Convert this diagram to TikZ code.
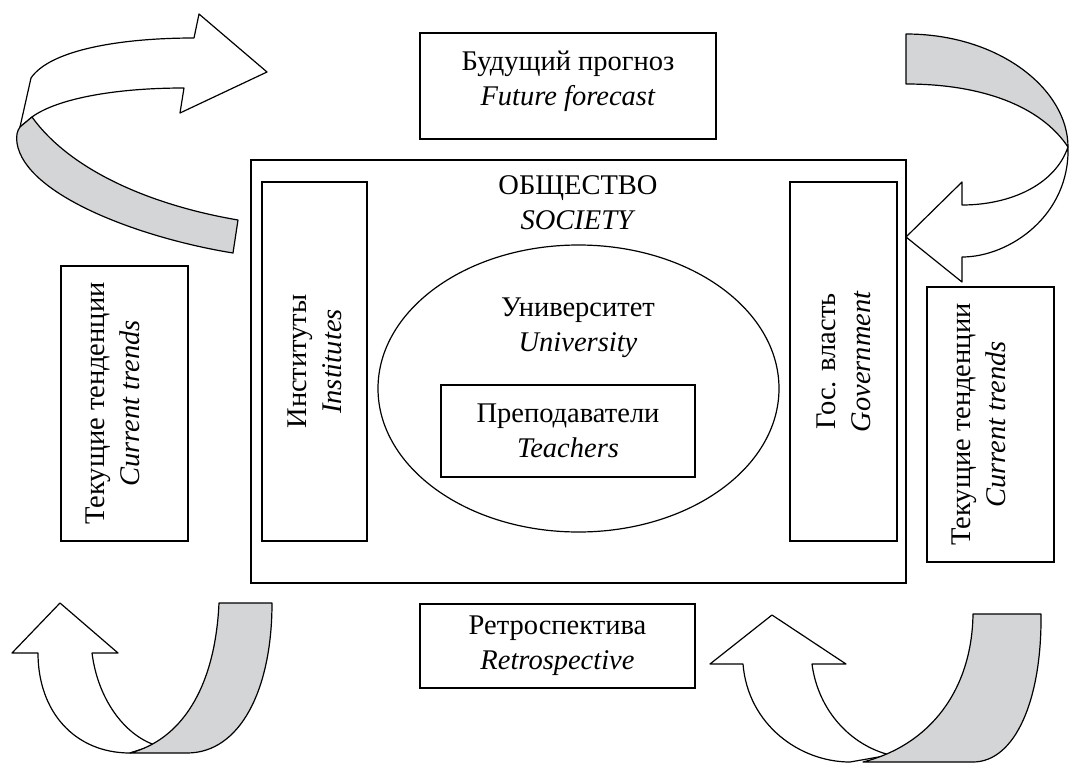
\documentclass[tikz,border=0pt]{standalone}
\usepackage{fontspec}
\setmainfont{Liberation Serif}
\usetikzlibrary{shapes.geometric}
\definecolor{ribbongray}{RGB}{212,213,215}

\begin{document}
\begin{tikzpicture}[x=1pt,y=-1pt,
	font=\fontsize{28.5}{35}\selectfont,
	box/.style={draw, line width=1.2pt, inner sep=0pt, align=center},
	trendsbox/.style={box, rotate=90, minimum width=275, minimum height=127, text depth=24pt},
	ribbon/.style={draw, line width=1.2pt, fill=white, line join=round},
	ribbonback/.style={ribbon, fill=ribbongray}]
	\useasboundingbox (0,0) rectangle (1069,763);

	% society and what it holds
	\node[box, minimum width=655, minimum height=423] (society) at (578.5,371.5) {};
	\node[align=center] (societytitle) at (578,203) {ОБЩЕСТВО\\\textit{SOCIETY}};
	\node[box, rotate=90, minimum width=359, minimum height=105] (institutes) at (314.5,361.5) {Институты\\\textit{Institutes}};
	\node[box, rotate=90, minimum width=359, minimum height=107] (government) at (843.5,361.5) {Гос. власть\\\textit{Government}};
	\node[draw, line width=1.2pt, ellipse, inner sep=0pt, minimum width=401, minimum height=287] (university) at (578.5,388.5) {};
	\node[align=center] (universitytitle) at (578,328) {Университет\\\textit{University}};
	\node[box, minimum width=254, minimum height=92] (teachers) at (568,431) {Преподаватели\\\textit{Teachers}};

	% outer blocks
	\node[box, minimum width=296, minimum height=106, text depth=16pt] (forecast) at (568,86) {Будущий прогноз\\\textit{Future forecast}};
	\node[box, minimum width=275, minimum height=84] (retro) at (557.5,646) {Ретроспектива\\\textit{Retrospective}};
	\node[trendsbox] (trendsleft) at (124.5,403.5) {Текущие тенденции\\\textit{Current trends}};
	\node[trendsbox] (trendsright) at (990.5,424.5) {Текущие тенденции\\\textit{Current trends}};

	% top left ribbon
	\draw[ribbon] (194,38) .. controls (120,38) and (50,50) .. (31,78) -- (20,127) -- (32,117)
		.. controls (55,100) and (110,88) .. (184,88) -- (180,113) -- (267,72) -- (199,14) -- cycle;
	\draw[ribbonback] (32,117) .. controls (70,170) and (150,205) .. (238,220) -- (233,253)
		.. controls (140,238) and (25,195) .. (17,143) .. controls (16,136) and (17,131) .. (20,127) -- cycle;

	% top right ribbon
	\draw[ribbonback] (906,34) .. controls (1000,34) and (1068,90) .. (1068,147)
		.. controls (1040,105) and (980,84) .. (906,84) -- cycle;
	\draw[ribbon] (1068,147) .. controls (1070,215) and (1010,257) .. (962,257) -- (962,282) -- (906,237)
		-- (962,182) -- (962,205) .. controls (1010,205) and (1055,185) .. (1068,147) -- cycle;

	% bottom left ribbon
	\draw[ribbon] (38,653) .. controls (38,712) and (75,753) .. (130,753) -- (155,745)
		.. controls (125,735) and (98,700) .. (92,653) -- (118,653) -- (60,603) -- (12,653) -- cycle;
	\draw[ribbonback] (219,603) -- (272,603) .. controls (272,690) and (240,753) .. (187,753) -- (130,753)
		.. controls (180,740) and (215,690) .. (219,603) -- cycle;

	% bottom right ribbon
	\draw[ribbon] (743,664) .. controls (748,725) and (800,762) .. (850,762) -- (890,755)
		.. controls (850,745) and (818,710) .. (812,664) -- (846,664) -- (772,615) -- (710,664) -- cycle;
	\draw[ribbonback] (973,614) -- (1041,614) .. controls (1042,700) and (1015,762) .. (973,762) -- (863,762)
		.. controls (930,745) and (972,690) .. (973,614) -- cycle;
\end{tikzpicture}
\end{document}
